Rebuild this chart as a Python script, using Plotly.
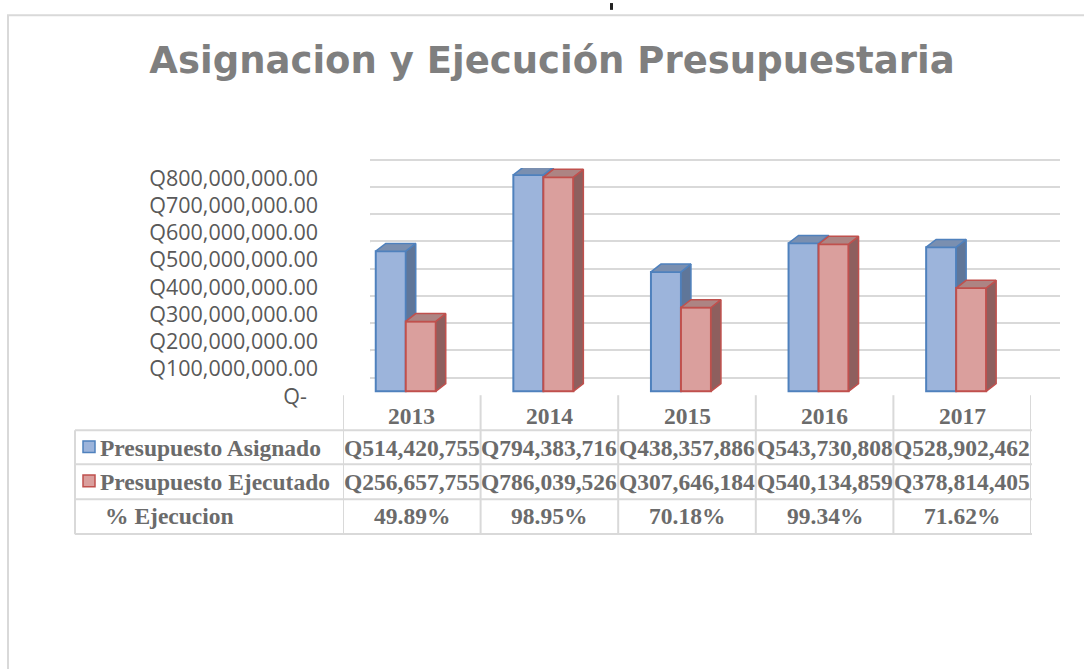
import plotly.graph_objects as go

W, H = 1084, 669

years = ["2013", "2014", "2015", "2016", "2017"]
asignado = [514420755, 794383716, 438357886, 543730808, 528902462]
ejecutado = [256657755, 786039526, 307646184, 540134859, 378814405]
pct_ejec = ["49.89%", "98.95%", "70.18%", "99.34%", "71.62%"]
asignado_txt = ["Q514,420,755", "Q794,383,716", "Q438,357,886", "Q543,730,808", "Q528,902,462"]
ejecutado_txt = ["Q256,657,755", "Q786,039,526", "Q307,646,184", "Q540,134,859", "Q378,814,405"]
series_names = ["Presupuesto Asignado", "Presupuesto Ejecutado", "% Ejecucion"]
tick_vals = [0, 100e6, 200e6, 300e6, 400e6, 500e6, 600e6, 700e6, 800e6]
tick_text = ["Q-\u00a0\u00a0", "Q100,000,000.00", "Q200,000,000.00", "Q300,000,000.00",
             "Q400,000,000.00", "Q500,000,000.00", "Q600,000,000.00",
             "Q700,000,000.00", "Q800,000,000.00"]
title_text = "Asignacion y Ejecución Presupuestaria"


def px(x):
    return x / W


def py(y):
    return (H - y) / H


idx = list(range(len(years)))
BAR_W = 0.218
OFF_B = -0.262
OFF_R = -0.044
DX = 0.0727          # depth offset in x units (~10 px)
DY = 8 / 0.28 * 1e6  # depth offset in y units (~8 px)

GRID = "#d9d9d9"
TXT = "#6b6b6b"

fig = go.Figure()

# back-wall grid subplot (x / y)
fig.add_trace(go.Scatter(x=[0, 1], y=[0, 0], mode="markers", marker=dict(opacity=0),
                         hoverinfo="skip", showlegend=False, xaxis="x", yaxis="y"))


def faces(vals, off):
    sx, sy, tx, ty = [], [], [], []
    for i, v in zip(idx, vals):
        L = i + off
        R = L + BAR_W
        sx += [R, R + DX, R + DX, R, R, None]
        sy += [0, DY, v + DY, v, 0, None]
        tx += [L, L + DX, R + DX, R, L, None]
        ty += [v, v + DY, v + DY, v, v, None]
    return sx, sy, tx, ty


def add_series(vals, off, face, line, side, top, xa, ya, name):
    fig.add_trace(go.Bar(x=idx, y=vals, width=BAR_W, offset=off, name=name,
                         marker=dict(color=face, line=dict(color=line, width=2)),
                         showlegend=False, xaxis=xa, yaxis=ya))
    sx, sy, tx, ty = faces(vals, off)
    fig.add_trace(go.Scatter(x=sx, y=sy, fill="toself", fillcolor=side, mode="lines",
                             line=dict(color=line, width=1.5), hoverinfo="skip",
                             showlegend=False, xaxis=xa, yaxis=ya))
    fig.add_trace(go.Scatter(x=tx, y=ty, fill="toself", fillcolor=top, mode="lines",
                             line=dict(color=line, width=1.5), hoverinfo="skip",
                             showlegend=False, xaxis=xa, yaxis=ya))


add_series(asignado, OFF_B, "#9cb4db", "#4f81bd", "#5f7699", "#7a8fb0", "x2", "y2", series_names[0])
add_series(ejecutado, OFF_R, "#da9f9d", "#c0504d", "#8e5f5e", "#ad8483", "x3", "y3", series_names[1])

# invisible trace for label axis
fig.add_trace(go.Scatter(x=[0], y=[0], mode="markers", marker=dict(opacity=0),
                         hoverinfo="skip", showlegend=False, xaxis="x2", yaxis="y4"))

xdom_grid = [px(370), px(1060)]
xdom_bars = [px(343), px(1031)]
ydom_grid = [py(388.6), py(153.4)]
ydom_bars = [py(402.6), py(167.4)]
yrange = [-20e6, 820e6]

hidden = dict(showgrid=False, zeroline=False, showticklabels=False, showline=False, ticks="")

fig.update_layout(
    width=W, height=H,
    margin=dict(l=0, r=0, t=0, b=0),
    paper_bgcolor="white", plot_bgcolor="rgba(0,0,0,0)",
    barmode="overlay",
    showlegend=False,
    title=dict(text=title_text, x=px(552), xanchor="center", y=py(60), yanchor="middle",
               font=dict(family="DejaVu Sans", size=37, color="#7f7f7f", weight="bold")),
    xaxis=dict(domain=xdom_grid, range=[0, 1], anchor="y", **hidden),
    yaxis=dict(domain=ydom_grid, range=yrange, anchor="x", tickvals=tick_vals,
               showgrid=True, gridcolor=GRID, gridwidth=2, zeroline=False,
               showticklabels=False, showline=False, ticks=""),
    xaxis2=dict(domain=xdom_bars, range=[-0.5, 4.5], anchor="y2", **hidden),
    yaxis2=dict(domain=ydom_bars, range=yrange, anchor="x2", **hidden),
    xaxis3=dict(domain=xdom_bars, range=[-0.5, 4.5], anchor="y3", **hidden),
    yaxis3=dict(domain=ydom_bars, range=yrange, anchor="x3", **hidden),
    yaxis4=dict(overlaying="y2", anchor="free", position=px(318), side="left",
                range=[-2.1e6, 837.9e6], tickvals=tick_vals, ticktext=tick_text,
                showgrid=False, zeroline=False, showline=False, ticks="",
                tickfont=dict(family="Open Sans", size=21.5, color="#595959")),
)

shapes = []
# outer chart frame
shapes.append(dict(type="rect", xref="paper", yref="paper", x0=px(8), x1=1.05,
                   y0=-0.05, y1=py(10.5), line=dict(color=GRID, width=2), layer="below"))
# cut-off text fragment at top
shapes.append(dict(type="line", xref="paper", yref="paper", x0=px(611.5), x1=px(611.5),
                   y0=py(-2), y1=py(5), line=dict(color="#222222", width=3)))
# side wall diagonals
for v in tick_vals:
    shapes.append(dict(type="line", xref="x", yref="y", xsizemode="pixel", xanchor=0,
                       x0=-27, x1=0, ysizemode="pixel", yanchor=v, y0=-19, y1=0,
                       line=dict(color=GRID, width=2), layer="below"))
# table lines
for i in range(len(years) + 1):
    shapes.append(dict(type="line", xref="x2", yref="paper", x0=i - 0.5, x1=i - 0.5,
                       y0=py(401), y1=py(544), line=dict(color=GRID, width=2)))
shapes.append(dict(type="line", xref="paper", yref="paper", x0=px(75), x1=px(75),
                   y0=py(437), y1=py(544), line=dict(color=GRID, width=2)))
for yy in [437, 472, 508, 543.5]:
    shapes.append(dict(type="line", xref="paper", yref="paper", x0=px(75), x1=px(1032),
                       y0=py(yy), y1=py(yy), line=dict(color=GRID, width=2)))
# legend keys
shapes.append(dict(type="rect", xref="paper", yref="paper", x0=px(83), x1=px(95),
                   y0=py(460), y1=py(448), fillcolor="#9cb4db", line=dict(color="#4f81bd", width=1.5)))
shapes.append(dict(type="rect", xref="paper", yref="paper", x0=px(83), x1=px(95),
                   y0=py(495), y1=py(483), fillcolor="#da9f9d", line=dict(color="#c0504d", width=1.5)))
fig.update_layout(shapes=shapes)

tfont = dict(family="Liberation Serif", size=23.5, color=TXT, weight="bold")
ann = []
row_y = [455, 490, 525]
for i, yr in enumerate(years):
    ann.append(dict(xref="x2", yref="paper", x=i, y=py(422), text=yr, showarrow=False,
                    font=tfont, xanchor="center", yanchor="middle"))
    for txt_list, yy in zip([asignado_txt, ejecutado_txt, pct_ejec], row_y):
        ann.append(dict(xref="x2", yref="paper", x=i, y=py(yy), text=txt_list[i],
                        showarrow=False, font=tfont, xanchor="center", yanchor="middle"))
for name, yy, xx in zip(series_names, row_y, [98, 98, 103]):
    ann.append(dict(xref="paper", yref="paper", x=px(xx), y=py(yy), text=name,
                    showarrow=False, font=tfont, xanchor="left", yanchor="middle"))
fig.update_layout(annotations=ann)

page_js = (
    "var de=document.documentElement, b=document.body;"
    "de.style.margin='0'; de.style.padding='0'; de.style.overflow='hidden';"
    "b.style.margin='0'; b.style.padding='0'; b.style.overflow='hidden';"
)

fig.write_html("out.html", config={"displayModeBar": False}, post_script=page_js)
